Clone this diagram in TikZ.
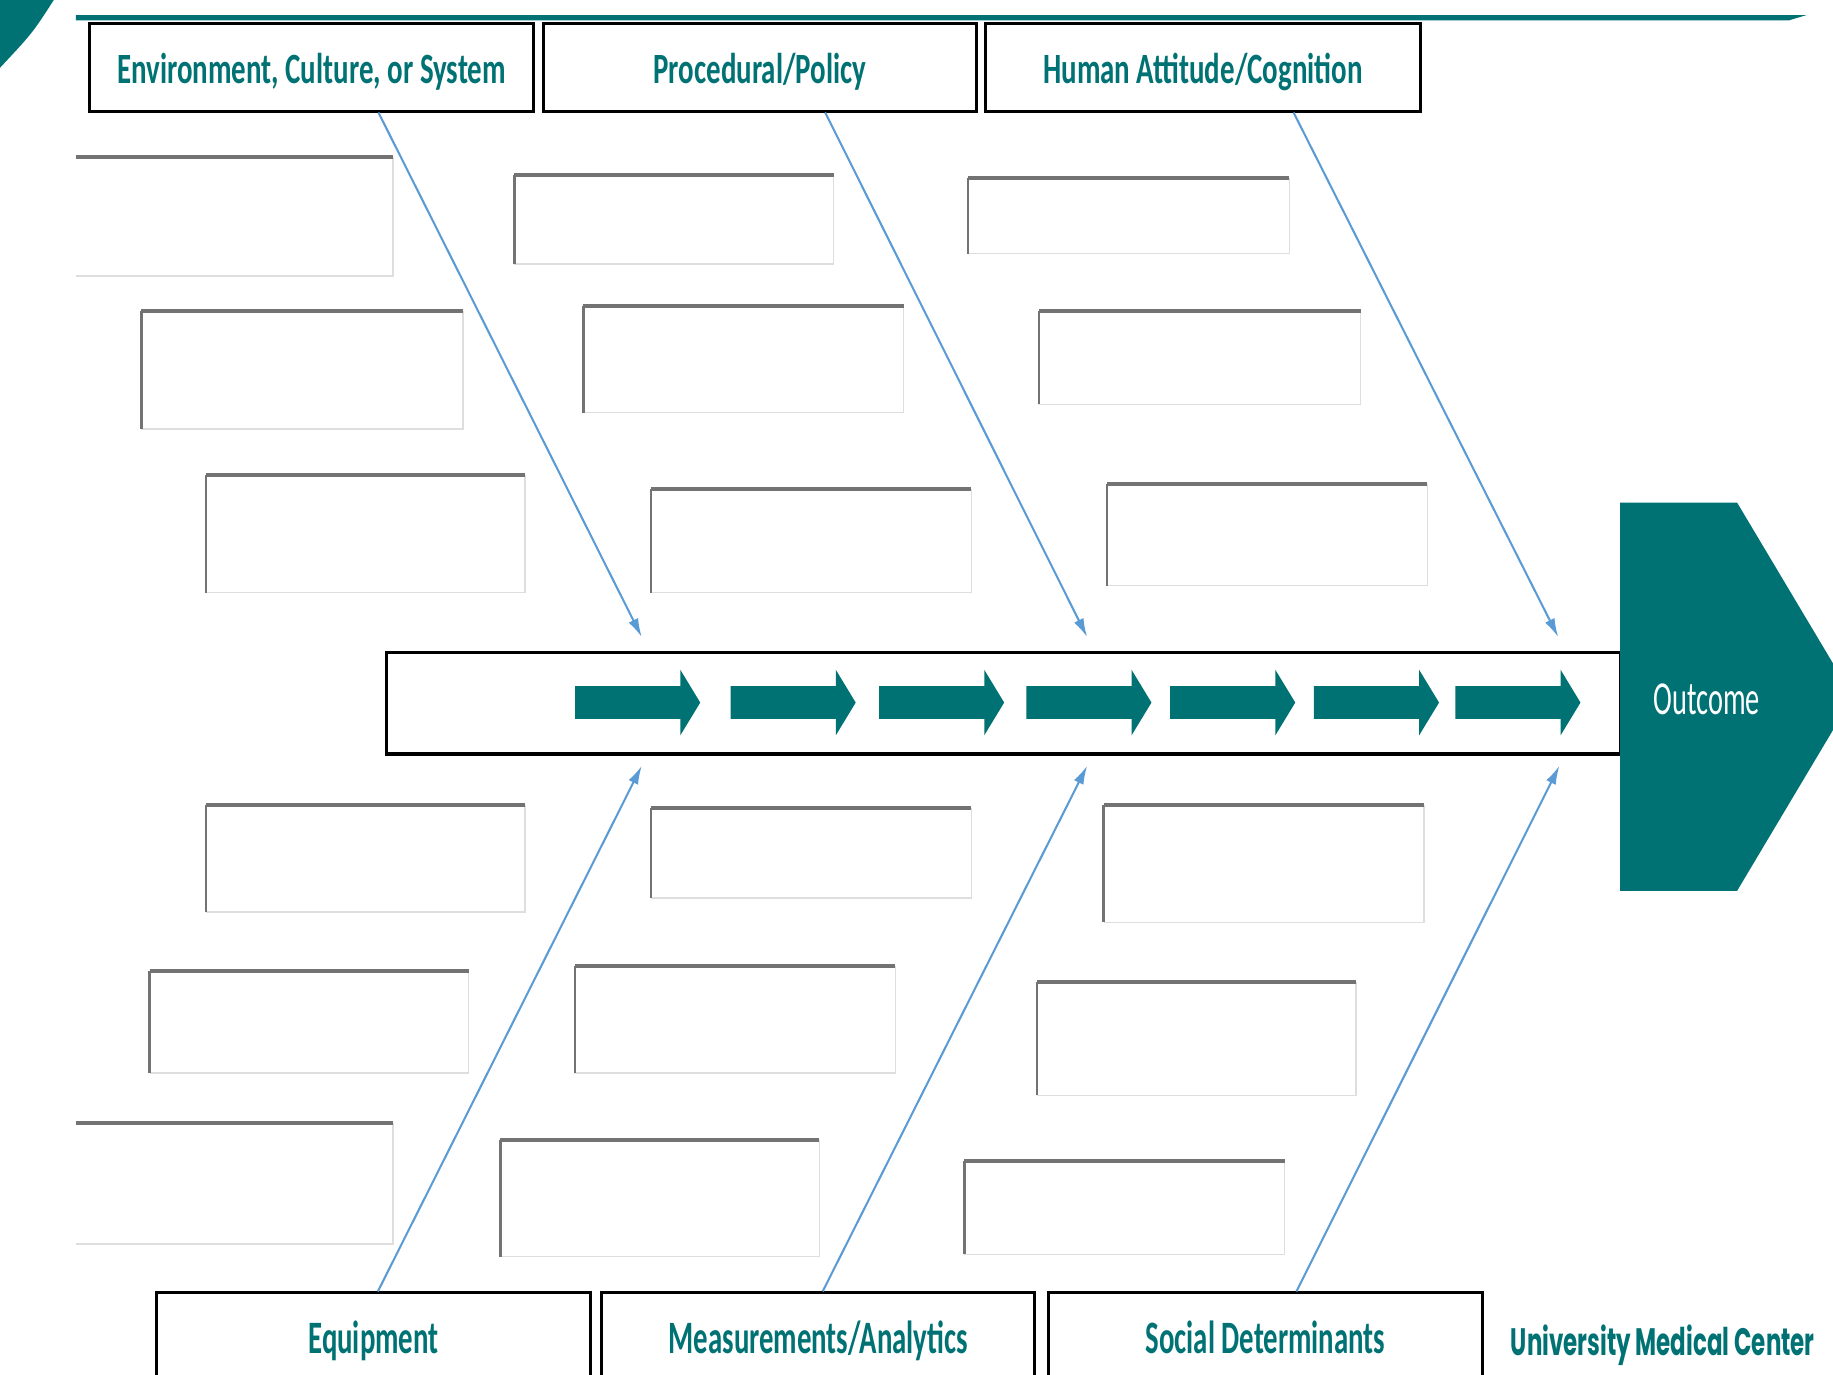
\documentclass[tikz,border=0pt]{standalone}
\usepackage{fontspec}
\setmainfont{Carlito}
\newfontfamily\kopffont[FakeStretch=0.67]{Carlito}
\newfontfamily\fussfont[FakeStretch=0.62]{Carlito}
\newfontfamily\zielfont[FakeStretch=0.6]{Carlito}
\newfontfamily\logofont[FakeStretch=0.6]{Poppins}
\usetikzlibrary{arrows.meta,calc}
\definecolor{petrol}{RGB}{0,114,116}
\definecolor{graete}{RGB}{91,155,213}

\def\feld#1#2#3#4{
	\draw[black!13,line width=0.35pt] (#3,#2) -- (#3,#4) -- (#1,#4);
	\draw[black!55,line width=0.6pt] (#1,#4) -- (#1,#2);
	\draw[black!55,line width=1pt] (#1,#2) -- (#3,#2);
}
\def\feldoffen#1#2#3#4{
	\draw[black!13,line width=0.35pt] (#3,#2) -- (#3,#4) -- (#1,#4);
	\draw[black!55,line width=1pt] (#1,#2) -- (#3,#2);
}

\begin{document}
\begin{tikzpicture}[x=0.01cm,y=-0.01cm,>={Latex[length=1.6mm,width=0.9mm]},
	kopf/.style={draw,line width=0.7pt,minimum height=0.75cm,inner sep=0pt,
		text height=7.9pt,text depth=0pt,
		text=petrol,font=\kopffont\bfseries\fontsize{10.5}{12}\selectfont},
	fuss/.style={draw,line width=0.7pt,minimum height=0.78cm,inner sep=0pt,
		text height=7.3pt,text depth=0pt,
		text=petrol,font=\fussfont\bfseries\fontsize{11.3}{13}\selectfont},
	graete/.style={draw=graete,line width=0.5pt,->}]
\useasboundingbox (0,0) rectangle (1568,1176);

% corner and top rule
\fill[petrol] (0,0) -- (46,0) .. controls (28,28) .. (0,58) -- cycle;
\fill[petrol] (65,13) -- (1545,13) -- (1530,17.5) -- (65,17.5) -- cycle;

% categories
\node[kopf,minimum width=3.79cm] (env) at (266.5,57.5) {Environment, Culture, or System};
\node[kopf,minimum width=3.70cm] (proc) at (650,57.5) {Procedural/Policy};
\node[kopf,minimum width=3.72cm] (human) at (1029,57.5) {Human Attitude/Cognition};
\node[fuss,minimum width=3.71cm] (equip) at (319.5,1145) {Equipment};
\node[fuss,minimum width=3.70cm] (meas) at (700,1145) {Measurements/Analytics};
\node[fuss,minimum width=3.71cm] (social) at (1082.5,1145) {Social Determinants};

% spine and head
\node[draw,line width=0.8pt,minimum width=10.55cm,minimum height=0.87cm] (spine) at (858.5,601.5) {};
\fill[petrol] (1386,430) -- (1486,430) -- (1585,596) -- (1486,762) -- (1386,762) -- cycle;
\node[text=white,font=\zielfont\fontsize{11.5}{13}\selectfont] (outcome) at (1460,598) {Outcome};
\foreach \x in {492,625,752,878,1001,1124,1245}
	\fill[petrol] (\x,587) -- ++(90,0) -- ++(0,-14) -- ++(17,28) -- ++(-17,28) -- ++(0,-14) -- ++(-90,0) -- cycle;

% bones
\coordinate (t1) at (549,545);
\coordinate (t2) at (930,545);
\coordinate (t3) at (1333,545);
\coordinate (b1) at (549,655);
\coordinate (b2) at (930,655);
\coordinate (b3) at (1334,655);
\draw[graete] ($(env.south west)!0.65!(env.south east)$) -- (t1);
\draw[graete] ($(proc.south west)!0.65!(proc.south east)$) -- (t2);
\draw[graete] ($(human.south west)!0.707!(human.south east)$) -- (t3);
\draw[graete] ($(equip.north west)!0.51!(equip.north east)$) -- (b1);
\draw[graete] ($(meas.north west)!0.51!(meas.north east)$) -- (b2);
\draw[graete] ($(social.north west)!0.571!(social.north east)$) -- (b3);

% empty fields
\feldoffen{65}{134}{336}{236}
\feld{121}{266}{396}{367}
\feld{176}{406}{449}{507}
\feld{440}{150}{713}{226}
\feld{499}{262}{773}{353}
\feld{557}{418}{831}{507}
\feld{828}{152}{1103}{217}
\feld{889}{266}{1164}{346}
\feld{947}{414}{1221}{501}
\feld{176}{689}{449}{780}
\feld{128}{831}{401}{918}
\feldoffen{65}{961}{336}{1064}
\feld{557}{691}{831}{768}
\feld{492}{826}{766}{918}
\feld{428}{975}{701}{1075}
\feld{944}{689}{1218}{789}
\feld{887}{840}{1160}{937}
\feld{825}{993}{1099}{1073}

\node[anchor=west,text=petrol,font=\logofont\bfseries\fontsize{9.3}{11}\selectfont] (logo) at (1280,1151) {University Medical Center};
\end{tikzpicture}
\end{document}
